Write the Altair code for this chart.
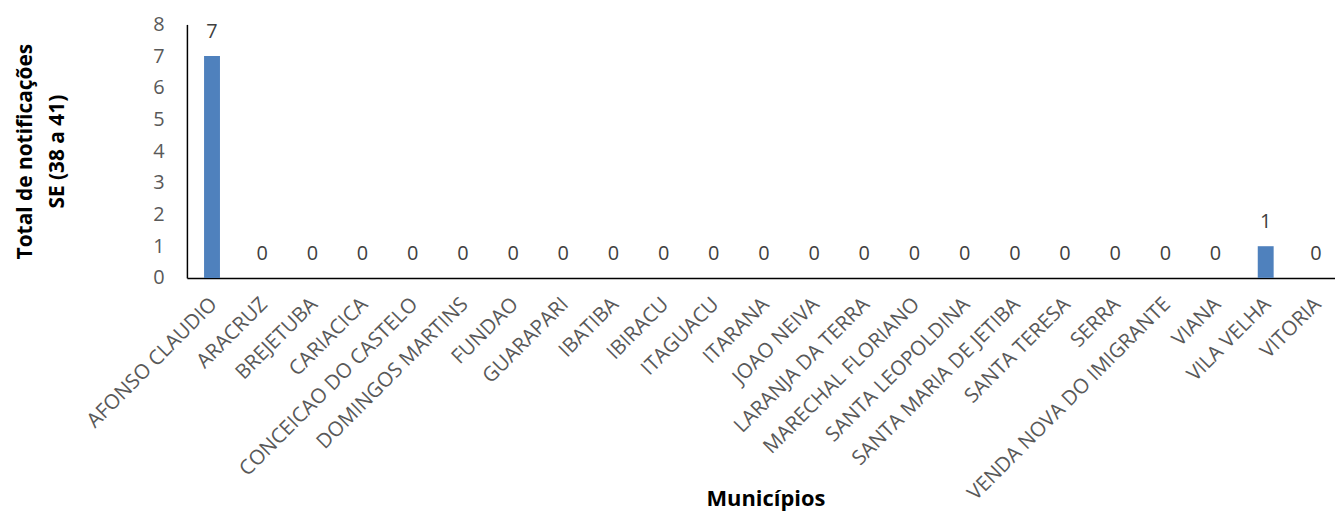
import altair as alt
import pandas as pd

municipios = ["AFONSO CLAUDIO", "ARACRUZ", "BREJETUBA", "CARIACICA", "CONCEICAO DO CASTELO",
              "DOMINGOS MARTINS", "FUNDAO", "GUARAPARI", "IBATIBA", "IBIRACU", "ITAGUACU",
              "ITARANA", "JOAO NEIVA", "LARANJA DA TERRA", "MARECHAL FLORIANO",
              "SANTA LEOPOLDINA", "SANTA MARIA DE JETIBA", "SANTA TERESA", "SERRA",
              "VENDA NOVA DO IMIGRANTE", "VIANA", "VILA VELHA", "VITORIA"]
totais = [7, 0, 0, 0, 0, 0, 0, 0, 0, 0, 0, 0, 0, 0, 0, 0, 0, 0, 0, 0, 0, 1, 0]
y_ticks = [0, 1, 2, 3, 4, 5, 6, 7, 8]

df = pd.DataFrame({"municipio": municipios, "total": totais})

FONT = "Open Sans"

x = alt.X("municipio:N", sort=municipios,
          scale=alt.Scale(paddingInner=0.0, paddingOuter=0.0, range=[0, 1161]),
          axis=alt.Axis(title="Municípios", labelAngle=-45, labelAlign="right",
                        labelBaseline="top", labelPadding=16, labelOffset=-5,
                        ticks=False, labelLimit=0,
                        labelFontSize=20.5, labelColor="#595959", labelFont=FONT,
                        titleFont=FONT, titleFontSize=22, titleFontWeight="bold",
                        titleColor="black", titleY=229, titleBaseline="alphabetic",
                        titleX=582,
                        domainColor="black", domainWidth=1.5, labelOverlap=False))
y = alt.Y("total:Q", scale=alt.Scale(domain=[0, 8]),
          axis=alt.Axis(title=["Total de notificações", "SE (38 a 41)"], values=y_ticks,
                        grid=False, ticks=False, labelPadding=23, labelFontSize=20,
                        labelColor="#595959", labelFont=FONT, titleFont=FONT,
                        labelOverlap=False,
                        titleFontSize=21, titleFontWeight="bold", titleColor="black",
                        titleX=-173, titleBaseline="top", titleLineHeight=32,
                        domainColor="black", domainWidth=1.5))

bars = alt.Chart(df).mark_bar(size=16, color="#4F81BD").encode(x=x, y=y)
labels = alt.Chart(df).mark_text(baseline="alphabetic", dy=-18, fontSize=20,
                                 color="#404040", font=FONT).encode(
    x=x, y=y, text="total:Q")

chart = (bars + labels).properties(
    width=1155, height=255,
    autosize=alt.AutoSizeParams(type="none"),
    padding={"left": 180, "top": 15, "right": 0, "bottom": 234},
).configure_view(stroke=None)

chart.save("out.html", embed_options={"renderer": "svg", "actions": False})
